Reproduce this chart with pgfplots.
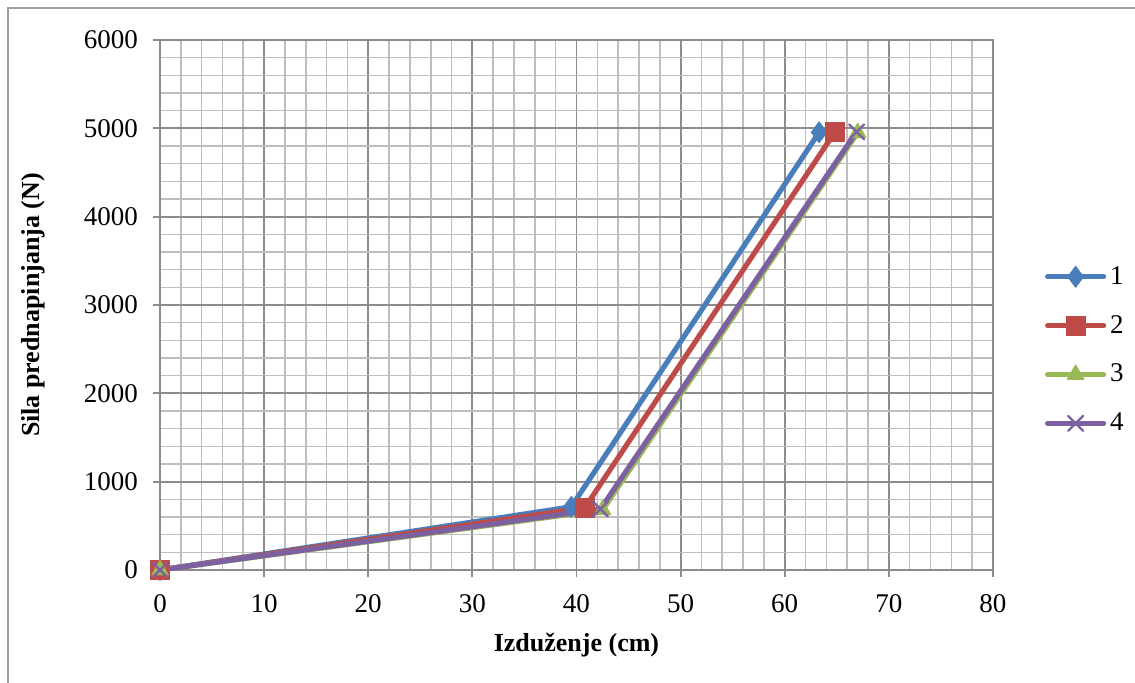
\documentclass[border=0pt]{standalone}
\usepackage{pgfplots}
\pgfplotsset{compat=1.18}
\usepackage{fontspec}
\setmainfont{Liberation Serif}
\definecolor{sA}{HTML}{4A7EBB}
\definecolor{sB}{HTML}{BE4B48}
\definecolor{sC}{HTML}{98B954}
\definecolor{sD}{HTML}{7D60A0}
\definecolor{gmaj}{HTML}{8C8C8C}
\definecolor{gmin}{HTML}{BEBEBE}
\begin{document}
\begin{tikzpicture}[x=1pt,y=1pt]
\useasboundingbox (-80,-56) rectangle (487.5,285);
\draw[gray!75, line width=0.9pt] (-76,281) rectangle (520,-80);
\begin{axis}[
  at={(0,0)}, anchor=south west,
  scale only axis, width=416.5pt, height=265pt,
  xmin=0, xmax=80, ymin=0, ymax=6000,
  xtick distance=10, ytick distance=1000,
  minor x tick num=4, minor y tick num=4,
  grid=both,
  major grid style={draw=gmaj, line width=0.9pt},
  minor grid style={draw=gmin, line width=0.8pt},
  axis line style={draw=gmaj, line width=0.9pt},
  tick align=outside, major tick length=3.5pt, minor tick length=0pt,
  tick style={draw=gmaj, line width=0.9pt},
  xtick pos=bottom, ytick pos=left,
  scaled y ticks=false,
  /pgf/number format/assume math mode=true,
  /pgf/number format/set thousands separator={},
  tick label style={font=\fontsize{13.5}{15}\selectfont},
  xticklabel style={yshift=-5pt},
  yticklabel style={xshift=-4pt},
  xlabel={\textbf{Izduženje (cm)}},
  ylabel={\textbf{Sila prednapinjanja (N)}},
  label style={font=\fontsize{13}{15}\selectfont},
  xlabel style={at={(axis description cs:0.5,-0.1415)}, anchor=center},
  ylabel style={at={(axis description cs:-0.1525,0.5)}, anchor=center, rotate=0},
  legend style={draw=none, fill=none, at={(1.062,0.415)}, anchor=west,
    font=\fontsize{13.5}{15}\selectfont, row sep=10pt, inner sep=0pt},
  legend cell align=left,
  legend image code/.code={%
    \draw[mark repeat=2, mark phase=2, line cap=round, #1]
      plot coordinates {(0pt,0pt) (14pt,0pt) (28pt,0pt)};},
  every axis plot/.append style={line width=2.6pt, line cap=round, line join=round},
]
\addplot[color=sA, mark=diamond*, mark size=5.2pt, mark options={line width=0.5pt}]
  coordinates {(0,0) (39.5,715) (63.3,4955)};
\addlegendentry{1}
\addplot[color=sB, mark=square*, mark size=4.8pt, mark options={line width=0.5pt}]
  coordinates {(0,0) (40.8,705) (64.8,4955)};
\addlegendentry{2}
\addplot[color=sC, mark=triangle*, mark size=4.8pt, mark options={line width=0.5pt}]
  coordinates {(0,0) (42.5,680) (67.0,4950)};
\addlegendentry{3}
\addplot[color=sD, mark=x, mark size=5.2pt, mark options={line width=1.2pt}]
  coordinates {(0,0) (42.3,690) (66.9,4960)};
\addlegendentry{4}
\end{axis}
\end{tikzpicture}
\end{document}
